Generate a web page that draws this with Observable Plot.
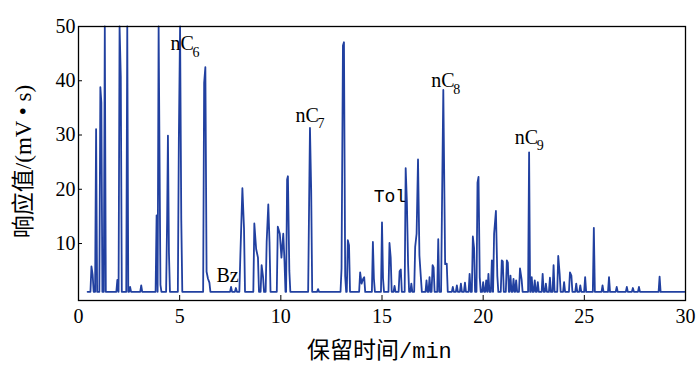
<!DOCTYPE html>
<html>
<head>
<meta charset="utf-8">
<script src="https://cdn.jsdelivr.net/npm/d3@7"></script>
<script src="https://cdn.jsdelivr.net/npm/@observablehq/plot@0.6"></script>
<style>
  html, body { margin: 0; padding: 0; background: #fff; }
  #chart { width: 700px; height: 376px; }
</style>
</head>
<body>
<div id="chart"></div>
<script>
// ---- data ----
const peakTimes = [
  0.64, 0.70, 0.87, 1.08, 1.13, 1.30, 1.92, 2.03, 2.09, 2.41, 2.55, 3.10,
  3.86, 3.96, 4.05, 4.38, 4.42, 4.47, 4.96, 5.02, 5.08, 6.21, 6.27, 6.33, 6.40, 6.47,
  7.54, 7.78, 8.00, 8.10, 8.18, 8.69, 8.78, 8.87, 9.05, 9.12, 9.30, 9.38, 9.44,
  9.85, 9.95, 10.03, 10.12, 10.18, 10.31, 10.35, 10.42, 11.40, 11.44, 11.50, 11.84,
  13.00, 13.07, 13.12, 13.18, 13.31, 13.37, 13.92, 13.99, 14.07, 14.12,
  14.55, 14.60, 15.00, 15.05, 15.37, 15.43, 15.62, 15.87, 15.93,
  16.17, 16.23, 16.29, 16.45, 16.64, 16.71, 16.78, 16.85, 16.92,
  17.20, 17.35, 17.50, 17.55, 17.78, 17.97, 18.03, 18.12, 18.20,
  18.50, 18.70, 18.90, 19.10, 19.33, 19.49, 19.55, 19.72, 19.77, 19.83,
  20.00, 20.15, 20.26, 20.43, 20.54, 20.63, 20.70, 20.92, 20.97, 21.17, 21.22,
  21.35, 21.50, 21.63, 21.82, 21.90, 22.27, 22.40, 22.55, 22.70, 22.94,
  23.10, 23.30, 23.48, 23.71, 23.78, 24.00, 24.29, 24.36, 24.60, 24.80, 25.04,
  25.47, 25.90, 26.22, 26.60, 27.10, 27.40, 27.70, 28.72
];
const peakHeights = [
  5.8, 4.2, 31.1, 38.8, 36.0, 50, 3.3, 50, 40.8, 50, 2.0, 2.3,
  15.2, 50, 2.4, 14.3, 29.9, 8.3, 29.4, 50, 14.3, 39.6, 42.5, 4.8, 3.5, 2.8,
  2.0, 1.8, 7.8, 20.2, 12.8, 13.7, 9.0, 7.4, 6.0, 3.9, 10.3, 17.2, 10.3,
  13.1, 11.8, 7.4, 11.8, 6.8, 21.8, 22.4, 5.0, 18.3, 31.3, 19.8, 1.6,
  5.4, 46.5, 47.1, 4.0, 10.6, 9.7, 4.7, 2.6, 3.5, 3.8,
  10.3, 3.5, 13.9, 3.6, 10.1, 7.4, 2.2, 4.9, 5.2,
  23.9, 17.7, 6.2, 2.6, 9.4, 11.8, 25.5, 7.8, 3.8,
  3.2, 3.8, 6.0, 5.6, 10.8, 18.6, 38.3, 6.2, 6.3,
  2.0, 2.3, 2.6, 2.8, 4.4, 11.3, 9.2, 21.2, 22.3, 3.8,
  2.9, 3.2, 4.4, 6.9, 11.8, 16.0, 4.0, 6.9, 6.7, 6.9, 6.5,
  4.1, 3.5, 3.2, 5.4, 3.4, 26.8, 3.8, 3.2, 2.9, 4.4,
  2.6, 3.7, 6.0, 7.7, 4.4, 2.9, 4.7, 4.1, 2.6, 2.3, 3.8,
  12.9, 2.3, 3.8, 2.0, 2.0, 1.8, 2.0, 3.9
];
const baselineLevel = 1.1;
const traceStart = 0.45;
const traceEnd = 29.95;

const alkaneSubs = ["6", "7", "8", "9"];
const alkaneX = [4.55, 10.72, 17.43, 21.56];
const alkaneY = [45.6, 32.4, 38.8, 28.4];

const compoundNames = ["Bz", "Tol"];
const compoundX = [6.82, 14.59];
const compoundY = [2.9, 17.6];

const xTicks = [0, 5, 10, 15, 20, 25, 30];
const yTicks = [10, 20, 30, 40, 50];
const xTitleCN = "保留时间";
const xTitleUnit = "/min";
const yTitle = "响应值/(mV • s)";

// ---- build the trace table from the peak list ----
const halfWidth = 0.05;
const trace = [{t: traceStart, v: baselineLevel}];
peakTimes.forEach((t, i) => {
  const h = peakHeights[i];
  if (i > 0 && t - peakTimes[i - 1] <= 0.1) {
    trace.push({t, v: h});
  } else {
    if (i > 0) trace.push({t: peakTimes[i - 1] + halfWidth, v: baselineLevel});
    trace.push({t: t - halfWidth, v: baselineLevel});
    trace.push({t, v: h});
  }
});
trace.push({t: peakTimes[peakTimes.length - 1] + halfWidth, v: baselineLevel});
trace.push({t: traceEnd, v: baselineLevel});

const lineColor = "#2140a0";
const serif = "Liberation Serif";

const chart = Plot.plot({
  width: 700,
  height: 376,
  marginLeft: 78,
  marginRight: 15,
  marginTop: 26,
  marginBottom: 76,
  style: {fontFamily: serif, background: "white", color: "black"},
  x: {domain: [0, 30]},
  y: {domain: [-0.5, 50]},
  marks: [
    Plot.line(trace, {x: "t", y: "v", stroke: lineColor, strokeWidth: 1.8}),
    Plot.frame({stroke: "black", strokeWidth: 1.3}),
    Plot.axisX(xTicks, {tickSize: -5, tickPadding: 13, fontSize: 20, label: null, tickFormat: d => String(d)}),
    Plot.axisY(yTicks, {tickSize: -4, tickPadding: 7, fontSize: 20, label: null, tickFormat: d => String(d)}),
    Plot.text(alkaneSubs, {
      x: (d, i) => alkaneX[i], y: (d, i) => alkaneY[i], text: () => "nC",
      textAnchor: "start", lineAnchor: "middle", dy: -6.4, fontSize: 20, fontFamily: serif, fill: "black"
    }),
    Plot.text(alkaneSubs, {
      x: (d, i) => alkaneX[i], y: (d, i) => alkaneY[i], text: d => d,
      textAnchor: "start", lineAnchor: "middle", dx: 22, dy: 2, fontSize: 14, fontFamily: serif, fill: "black"
    }),
    Plot.text(compoundNames.slice(0, 1), {
      x: (d, i) => compoundX[i], y: (d, i) => compoundY[i], text: d => d,
      textAnchor: "start", lineAnchor: "middle", dy: -6.4, fontSize: 20, fontFamily: serif, fill: "black"
    }),
    Plot.text(compoundNames.slice(1), {
      x: (d, i) => compoundX[i + 1], y: (d, i) => compoundY[i + 1], text: d => d,
      textAnchor: "start", lineAnchor: "middle", dy: -5.8, fontSize: 18, fontFamily: "Liberation Mono", fill: "black"
    }),
    Plot.text([xTitleCN], {
      frameAnchor: "bottom", text: d => d, textAnchor: "end", lineAnchor: "middle",
      dx: 17, dy: 50, fontSize: 23, fontFamily: "Noto Sans CJK SC", fill: "black"
    }),
    Plot.text([xTitleUnit], {
      frameAnchor: "bottom", text: d => d, textAnchor: "start", lineAnchor: "middle",
      dx: 17, dy: 50, fontSize: 22, fontFamily: "Liberation Mono", fill: "black"
    }),
    Plot.text([yTitle], {
      frameAnchor: "left", text: d => d, rotate: -90, textAnchor: "middle", lineAnchor: "middle",
      dx: -55, dy: -2, fontSize: 23, fontFamily: "Liberation Serif, Noto Sans CJK SC", fill: "black"
    })
  ]
});
document.getElementById("chart").appendChild(chart);
</script>
</body>
</html>
